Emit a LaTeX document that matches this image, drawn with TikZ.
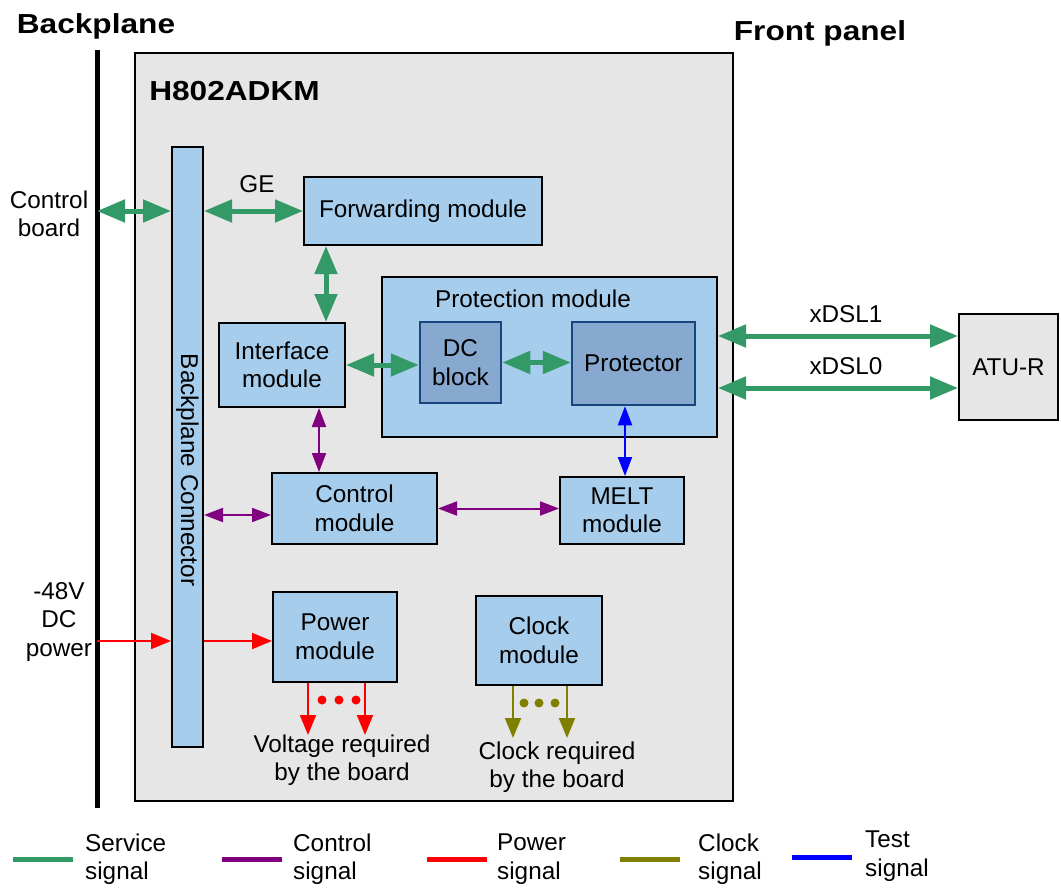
\documentclass[tikz,border=0pt]{standalone}
\usepackage{fontspec}
\setmainfont{Liberation Sans}
\newfontfamily\titlefont[FakeStretch=1.15]{Liberation Sans}
\usetikzlibrary{arrows.meta}
\definecolor{svcgreen}{HTML}{339966}
\definecolor{ctlpurple}{HTML}{800080}
\definecolor{pwrred}{HTML}{FF0000}
\definecolor{clkolive}{HTML}{808000}
\definecolor{tstblue}{HTML}{0000FF}
\definecolor{boxblue}{HTML}{A6CDEC}
\definecolor{darkbox}{HTML}{87A9D0}
\definecolor{darkedge}{HTML}{17467F}
\definecolor{boardgray}{HTML}{E6E6E6}
\tikzset{
  txt/.style={font=\fontsize{24.3}{28.5}\selectfont, align=center, inner sep=0pt},
  ttl/.style={font=\titlefont\bfseries\fontsize{27.5}{32}\selectfont, inner sep=0pt, anchor=base},
  box/.style={draw=black, line width=2pt, fill=boxblue, inner sep=0pt, txt},
  dbox/.style={draw=darkedge, line width=2.5pt, fill=darkbox, inner sep=0pt, txt},
  svc/.style={svcgreen, line width=5pt, {Triangle[length=28pt,width=22pt]}-{Triangle[length=28pt,width=22pt]}},
  ctl/.style={ctlpurple, line width=2pt, {Triangle[length=19pt,width=14pt]}-{Triangle[length=19pt,width=14pt]}},
  tst/.style={tstblue, line width=2pt, {Triangle[length=19pt,width=14pt]}-{Triangle[length=19pt,width=14pt]}},
  pwr/.style={pwrred, line width=2pt, -{Triangle[length=20pt,width=16pt]}},
  clk/.style={clkolive, line width=2pt, -{Triangle[length=20pt,width=16pt]}},
  leg/.style={line width=5pt},
}
\begin{document}
\begin{tikzpicture}[x=1pt,y=-1pt]
\useasboundingbox (0,0) rectangle (1061,889);
% titles
\node[ttl] (tbp) at (96,33) {Backplane};
\node[ttl] (tfp) at (820,40) {Front panel};
% board
\node[draw=black, line width=1.5pt, fill=boardgray, minimum width=598pt, minimum height=748pt, inner sep=0pt] (board) at (434,427) {};
\node[ttl] (tname) at (234.5,100) {H802ADKM};
% backplane line
\coordinate (bpt) at (97,50);
\coordinate (bpb) at (97,808);
\draw[line width=5pt] (bpt) -- (bpb);
% nodes
\node[box, minimum width=31pt, minimum height=600pt] (bc) at (187.5,447) {};
\node[txt, rotate=-90] (bctext) at (187.5,470) {Backplane Connector};
\node[box, minimum width=238pt, minimum height=68pt] (fw) at (423,211) {Forwarding module};
\node[box, minimum width=335pt, minimum height=160pt] (pm) at (549.5,357) {};
\node[txt, anchor=base] (pmtext) at (533,307) {Protection module};
\node[box, minimum width=126pt, minimum height=84pt] (ifm) at (282,365) {Interface\\module};
\node[dbox, minimum width=81pt, minimum height=81pt] (dc) at (460.5,362.5) {DC\\block};
\node[dbox, minimum width=123pt, minimum height=83pt] (pr) at (633.5,363.5) {Protector};
\node[box, minimum width=165pt, minimum height=71pt] (cm) at (354.5,508.5) {Control\\module};
\node[box, minimum width=124pt, minimum height=67pt] (melt) at (622,510.5) {MELT\\module};
\node[box, minimum width=124pt, minimum height=90pt] (pw) at (335,637) {Power\\module};
\node[box, minimum width=126pt, minimum height=89pt] (ck) at (539,640.5) {Clock\\module};
\node[box, fill=boardgray, minimum width=99pt, minimum height=106pt] (atu) at (1008.5,367) {ATU-R};
% labels
\node[txt] (lcb) at (49,214) {Control\\board};
\node[txt] (lpw) at (59,622) {-48V\\DC\\power};
\node[txt, anchor=base] (lge) at (257,192) {GE};
\node[txt, anchor=base] (lx1) at (846,322) {xDSL1};
\node[txt, anchor=base] (lx0) at (846,374) {xDSL0};
\node[txt] (lvr) at (342,760) {Voltage required\\by the board};
\node[txt] (lcr) at (557,767) {Clock required\\by the board};
% helper coordinates
\coordinate (y336) at (0,336);
\coordinate (y388) at (0,388);
\coordinate (x326) at (326,0);
\coordinate (x319) at (319,0);
\coordinate (x625) at (625,0);
\coordinate (y515) at (0,515);
\coordinate (y641) at (0,641);
\coordinate (x308) at (308,0);
\coordinate (x365) at (365,0);
\coordinate (x513) at (513,0);
\coordinate (x567) at (567,0);
\coordinate (pend) at (0,735);
\coordinate (cend) at (0,738);
% service arrows
\draw[svc] (bpt |- fw.west) -- (bc.west |- fw.west);
\draw[svc] (bc.east |- fw.west) -- (fw.west);
\draw[svc] (x326 |- fw.south) -- (x326 |- ifm.north);
\draw[svc] (ifm.east) -- (dc.west |- ifm.east);
\draw[svc] (dc.east) -- (pr.west |- dc.east);
\draw[svc] (pm.east |- y336) -- (atu.west |- y336);
\draw[svc] (pm.east |- y388) -- (atu.west |- y388);
% control arrows
\draw[ctl] (x319 |- ifm.south) -- (x319 |- cm.north);
\draw[ctl] (bc.east |- y515) -- (cm.west |- y515);
\draw[ctl] (cm.east) -- (melt.west |- cm.east);
% test
\draw[tst] (x625 |- pr.south) -- (x625 |- melt.north);
% power
\draw[pwr] (bpt |- y641) -- (bc.west |- y641);
\draw[pwr] (bc.east |- y641) -- (pw.west |- y641);
\draw[pwr] (x308 |- pw.south) -- (x308 |- pend);
\draw[pwr] (x365 |- pw.south) -- (x365 |- pend);
\fill[pwrred] (322,700) circle (4.5pt) (339,700) circle (4.5pt) (356,700) circle (4.5pt);
% clock
\draw[clk] (x513 |- ck.south) -- (x513 |- cend);
\draw[clk] (x567 |- ck.south) -- (x567 |- cend);
\fill[clkolive] (524,703) circle (4.5pt) (539,703) circle (4.5pt) (555,703) circle (4.5pt);
% legend
\coordinate (g1) at (13,859); \coordinate (g2) at (73,859);
\coordinate (p1) at (222,859); \coordinate (p2) at (282,859);
\coordinate (r1) at (427,859); \coordinate (r2) at (487,859);
\coordinate (o1) at (620,859); \coordinate (o2) at (680,859);
\coordinate (b1) at (792,857); \coordinate (b2) at (852,857);
\draw[leg, svcgreen] (g1) -- (g2);
\draw[leg, ctlpurple] (p1) -- (p2);
\draw[leg, pwrred] (r1) -- (r2);
\draw[leg, clkolive] (o1) -- (o2);
\draw[leg, tstblue] (b1) -- (b2);
\node[txt, align=left, anchor=west] (ls) at (85,859) {Service\\signal};
\node[txt, align=left, anchor=west] (lc) at (293,859) {Control\\signal};
\node[txt, align=left, anchor=west] (lp) at (497,859) {Power\\signal};
\node[txt, align=left, anchor=west] (lk) at (698,859) {Clock\\signal};
\node[txt, align=left, anchor=west] (lt) at (865,856) {Test\\signal};
\end{tikzpicture}
\end{document}
